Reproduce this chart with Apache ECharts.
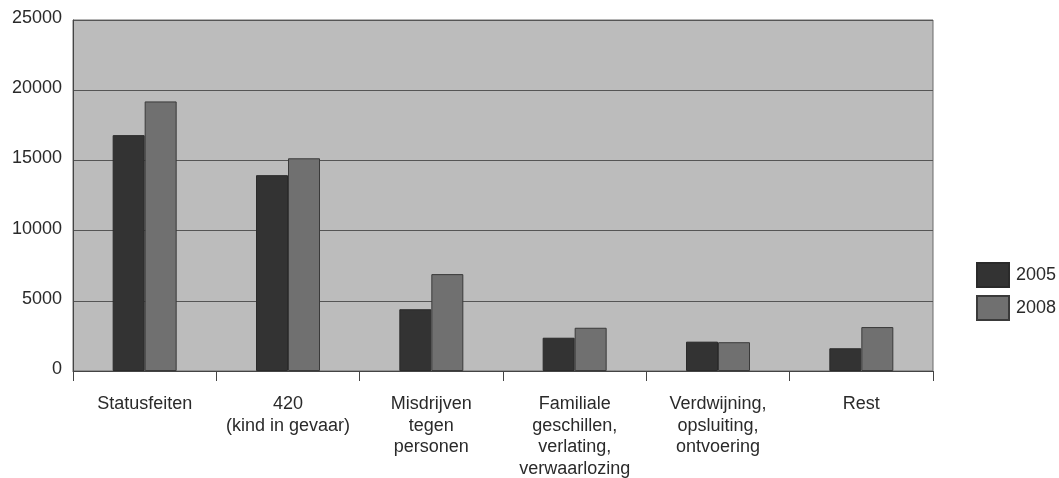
<!DOCTYPE html>
<html>
<head>
<meta charset="utf-8">
<script src="https://cdn.jsdelivr.net/npm/echarts@6/dist/echarts.min.js"></script>
<style>
  html, body { margin: 0; padding: 0; background: #ffffff; }
  #chart { width: 1059px; height: 478px; }
</style>
</head>
<body>
<div id="chart"></div>
<script>
// Categories of reported cases and counts per year
const categories = [
  'Statusfeiten',
  '420\n(kind in gevaar)',
  'Misdrijven\ntegen\npersonen',
  'Familiale\ngeschillen,\nverlating,\nverwaarlozing',
  'Verdwijning,\nopsluiting,\nontvoering',
  'Rest'
];
const values2005 = [16800, 13950, 4400, 2370, 2090, 1620];
const values2008 = [19200, 15150, 6900, 3080, 2050, 3130];
const yTicks = [0, 5000, 10000, 15000, 20000, 25000];

const chart = echarts.init(document.getElementById('chart'));
const font = 'Liberation Sans, Arial, sans-serif';

chart.setOption({
  animation: false,
  textStyle: { fontFamily: font },
  grid: {
    left: 73, right: 126, top: 20, bottom: 107,
    outerBoundsMode: 'none',
    containLabel: false,
    show: true,
    backgroundColor: '#bcbcbc',
    borderColor: '#6a6a6a',
    borderWidth: 1
  },
  legend: {
    orient: 'vertical',
    left: 976,
    top: 262,
    padding: 0,
    itemWidth: 32,
    itemHeight: 24,
    itemGap: 7,
    icon: 'rect',
    textStyle: { fontSize: 18, color: '#2a2a2a', fontFamily: font, padding: [0, 0, 0, 2] },
    data: ['2005', '2008']
  },
  xAxis: {
    type: 'category',
    data: categories,
    axisLine: { lineStyle: { color: '#444', width: 1 } },
    axisTick: { show: true, length: 10, lineStyle: { color: '#444' } },
    axisLabel: {
      interval: 0,
      margin: 22,
      fontSize: 18,
      lineHeight: 21.7,
      color: '#2a2a2a',
      fontFamily: font
    }
  },
  yAxis: {
    type: 'value',
    min: yTicks[0],
    max: yTicks[yTicks.length - 1],
    interval: yTicks[1] - yTicks[0],
    axisLine: { show: true, lineStyle: { color: '#444' } },
    axisTick: { show: false },
    splitLine: { lineStyle: { color: '#555', width: 1 } },
    axisLabel: {
      fontSize: 18,
      color: '#2a2a2a',
      margin: 11,
      fontFamily: font,
      verticalAlign: 'bottom',
      padding: [0, 0, -7, 0],
      formatter: (v) => String(v)
    }
  },
  series: [
    {
      name: '2005',
      type: 'bar',
      data: values2005,
      barWidth: 32,
      barGap: '0%',
      itemStyle: { color: '#333333', borderColor: '#2a2a2a', borderWidth: 1 }
    },
    {
      name: '2008',
      type: 'bar',
      data: values2008,
      barWidth: 32,
      barGap: '0%',
      itemStyle: { color: '#707070', borderColor: '#3a3a3a', borderWidth: 1 }
    }
  ]
});
</script>
</body>
</html>
